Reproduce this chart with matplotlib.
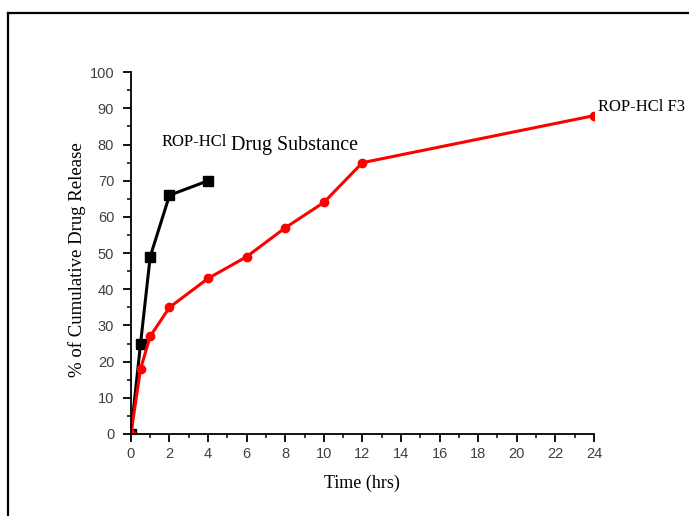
"""
Cumulative drug release: ROP-HCl drug substance vs ROP-HCl F3.
"""

import matplotlib.pyplot as plt
from matplotlib.lines import Line2D
from matplotlib.ticker import MultipleLocator

time_api = [0, 0.5, 1, 2, 4]
release_api = [0, 25, 49, 66, 70]

time_f3 = [0, 0.5, 1, 2, 4, 6, 8, 10, 12, 24]
release_f3 = [0, 18, 27, 35, 43, 49, 57, 64, 75, 88]

x_ticks = list(range(0, 25, 2))
y_ticks = list(range(0, 101, 10))

serif = ["Liberation Serif", "DejaVu Serif"]
sans = ["Liberation Sans", "DejaVu Sans"]


def main():
    fig = plt.figure(figsize=(6.89, 5.16), dpi=100)
    ax = fig.add_axes([0.190, 0.159, 0.672, 0.701])

    # outer frame (left and top edges only visible)
    fy = 1 - 12.5 / 516
    fx = 8 / 689
    fig.add_artist(Line2D([fx, fx], [0, fy], color="black", lw=1.6))
    fig.add_artist(Line2D([fx, 1], [fy, fy], color="black", lw=1.6))

    ax.plot(time_api, release_api, color="black", lw=2.2,
            marker="s", markersize=6.5)
    ax.plot(time_f3, release_f3, color="red", lw=2.2,
            marker="o", markersize=6)

    ax.set_xlim(0, 24)
    ax.set_ylim(0, 100)
    ax.set_xticks(x_ticks)
    ax.set_yticks(y_ticks)
    ax.xaxis.set_minor_locator(MultipleLocator(1))
    ax.yaxis.set_minor_locator(MultipleLocator(5))

    for side in ["top", "right"]:
        ax.spines[side].set_visible(False)
    for side in ["left", "bottom"]:
        ax.spines[side].set_linewidth(1.3)

    ax.tick_params(which="major", length=6, width=1.3, color="black",
                   labelsize=10.5, labelcolor="#404040", pad=6)
    ax.tick_params(axis="x", which="major", pad=3.5)
    ax.tick_params(which="minor", length=3, width=1.1, color="black")
    for lab in ax.get_xticklabels() + ax.get_yticklabels():
        lab.set_fontfamily(sans)

    ax.set_xlabel("Time (hrs)", family=serif, fontsize=13, labelpad=10)
    ax.set_ylabel("% of Cumulative Drug Release", family=serif,
                  fontsize=13.5)
    ax.yaxis.set_label_coords(-0.097, 0.483)

    t1 = ax.text(1.6, 79.6, "ROP-HCl", family=serif, fontsize=12,
                 va="baseline")
    ax.annotate("Drug Substance", xy=(1, 0), xycoords=t1,
                xytext=(2.5, 0), textcoords="offset points",
                family=serif, fontsize=14.4, va="baseline")
    ax.text(24.2, 90.3, "ROP-HCl F3", family=serif, fontsize=12,
            va="center", clip_on=False)

    fig.savefig("out.png", dpi=100)


main()
